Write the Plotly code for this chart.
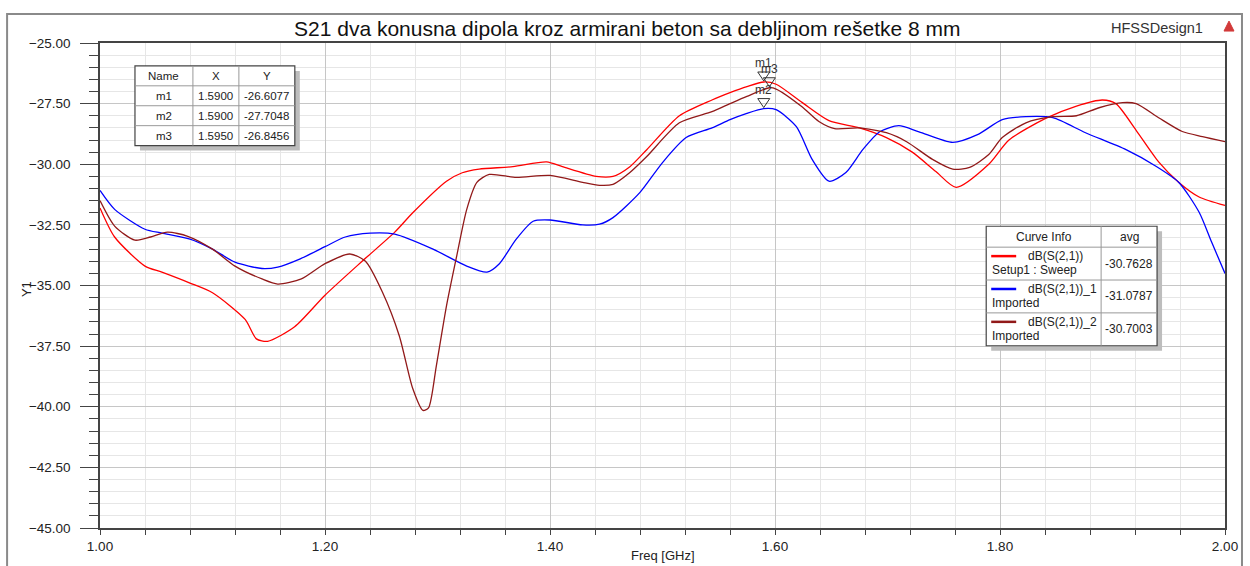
import plotly.graph_objects as go

# ---- curve data: dB(S(2,1)) vs frequency ----
red_f = [1.000, 1.013, 1.040, 1.055, 1.080, 1.100, 1.129, 1.139, 1.149, 1.173, 1.200, 1.233,
         1.262, 1.278, 1.308, 1.322, 1.337, 1.367, 1.397, 1.411, 1.441, 1.456, 1.471, 1.486,
         1.515, 1.544, 1.560, 1.575, 1.590, 1.601, 1.624, 1.648, 1.675, 1.699, 1.722, 1.743,
         1.761, 1.790, 1.808, 1.841, 1.868, 1.891, 1.903, 1.921, 1.941, 1.959, 1.977, 2.000]
red_y = [-31.8, -33.0, -34.2, -34.45, -34.9, -35.3, -36.4, -37.2, -37.3, -36.7, -35.4, -34.0,
         -32.8, -32.0, -30.7, -30.35, -30.2, -30.1, -29.9, -30.1, -30.5, -30.5, -30.1, -29.4,
         -28.0, -27.35, -27.05, -26.8, -26.6077, -26.7, -27.45, -28.2, -28.5, -28.9, -29.5, -30.3,
         -30.95, -30.0, -29.0, -28.1, -27.6, -27.35, -27.5, -28.6, -29.9, -30.75, -31.35, -31.7]

blue_f = [1.000, 1.013, 1.040, 1.055, 1.080, 1.100, 1.120, 1.144, 1.158, 1.178, 1.200, 1.218,
          1.240, 1.262, 1.296, 1.326, 1.344, 1.355, 1.370, 1.385, 1.400, 1.429, 1.444, 1.456,
          1.480, 1.500, 1.521, 1.544, 1.560, 1.575, 1.590, 1.601, 1.619, 1.633, 1.648, 1.663,
          1.678, 1.693, 1.710, 1.728, 1.758, 1.780, 1.802, 1.823, 1.847, 1.876, 1.912, 1.939,
          1.959, 1.977, 1.988, 2.000]
blue_y = [-31.08, -31.86, -32.68, -32.84, -33.09, -33.5, -34.04, -34.3, -34.24, -33.9, -33.4, -33.0,
          -32.84, -32.88, -33.5, -34.2, -34.45, -34.1, -33.09, -32.35, -32.3, -32.5, -32.47, -32.2,
          -31.16, -29.93, -28.9, -28.5, -28.16, -27.9, -27.7048, -27.75, -28.45, -29.8, -30.7, -30.34,
          -29.4, -28.66, -28.41, -28.66, -29.1, -28.78, -28.16, -28.04, -28.08, -28.7, -29.4, -30.09,
          -30.75, -31.98, -33.2, -34.5]

dark_f = [1.000, 1.013, 1.031, 1.045, 1.060, 1.078, 1.100, 1.120, 1.144, 1.158, 1.179, 1.200,
          1.222, 1.236, 1.251, 1.266, 1.278, 1.287, 1.292, 1.299, 1.308, 1.317, 1.326, 1.335,
          1.346, 1.370, 1.400, 1.429, 1.444, 1.456, 1.471, 1.486, 1.515, 1.544, 1.560, 1.575,
          1.595, 1.601, 1.624, 1.639, 1.653, 1.675, 1.699, 1.717, 1.740, 1.758, 1.773, 1.790,
          1.802, 1.823, 1.847, 1.868, 1.888, 1.909, 1.921, 1.941, 1.962, 1.980, 2.000]
dark_y = [-31.5, -32.55, -33.13, -33.0, -32.8, -32.97, -33.5, -34.2, -34.73, -34.94, -34.73, -34.1,
          -33.7, -34.0, -35.27, -37.07, -39.25, -40.15, -40.05, -38.3, -35.84, -33.8, -31.86, -30.75,
          -30.42, -30.54, -30.46, -30.75, -30.87, -30.83, -30.34, -29.68, -28.29, -27.83, -27.5, -27.2,
          -26.8456, -26.9, -27.63, -28.24, -28.53, -28.5, -28.7, -29.07, -29.8, -30.2, -30.13, -29.6,
          -28.9, -28.29, -28.04, -28.0, -27.67, -27.46, -27.5, -28.08, -28.65, -28.86, -29.07]

# ---- markers ----
marker_names = ["m1", "m2", "m3"]
marker_f = [1.5900, 1.5900, 1.5950]
marker_y = [-26.6077, -27.7048, -26.8456]

# ---- curve info table ----
curve_names = ["dB(S(2,1))", "dB(S(2,1))_1", "dB(S(2,1))_2"]
curve_sources = ["Setup1 : Sweep", "Imported", "Imported"]
curve_avg = [-30.7628, -31.0787, -30.7003]
curve_colors = ["rgb(255,0,0)", "rgb(0,0,255)", "rgb(145,25,25)"]

title_text = "S21 dva konusna dipola kroz armirani beton sa debljinom rešetke 8 mm"
design_name = "HFSSDesign1"

FONT = "Liberation Sans, Arial, sans-serif"
TXT = "#222222"

# plot-area geometry in pixels (for placing decorations outside the axes)
X0, W = 100, 1126
Y0, H = 530, 487


def px(x):
    return (x - X0) / W


def py(y):
    return (Y0 - y) / H


fig = go.Figure()
series = [(red_f, red_y), (blue_f, blue_y), (dark_f, dark_y)]
for (f, y), name, col in zip(series, curve_names, curve_colors):
    fig.add_trace(go.Scatter(x=f, y=y, mode="lines", name=name,
                             line=dict(color=col, width=1.3, shape="spline", smoothing=0.7),
                             hoverinfo="x+y", showlegend=False))

shapes = []
annots = []

# outer frame of the report
shapes.append(dict(type="rect", xref="paper", yref="paper",
                   x0=px(7), x1=px(1243), y0=py(14), y1=py(600),
                   line=dict(color="#8a8a8a", width=2), layer="below"))

# title and design name
annots.append(dict(xref="paper", yref="paper", x=px(628), y=py(28), text=title_text,
                   showarrow=False, font=dict(family=FONT, size=21, color="#111111"),
                   xanchor="center", yanchor="middle"))
annots.append(dict(xref="paper", yref="paper", x=px(1158), y=py(28), text=design_name,
                   showarrow=False, font=dict(family=FONT, size=14.5, color="#333333"),
                   xanchor="center", yanchor="middle"))
# small red logo
shapes.append(dict(type="path", xref="paper", yref="paper",
                   path=f"M {px(1225)} {py(31)} L {px(1235)} {py(31)} L {px(1230)} {py(21)} Z",
                   fillcolor="#d23a3a", line=dict(color="#d23a3a", width=1)))

# axis titles
annots.append(dict(xref="paper", yref="paper", x=px(27), y=py(290), text="Y1", textangle=-90,
                   showarrow=False, font=dict(family=FONT, size=13, color=TXT),
                   xanchor="center", yanchor="middle"))
annots.append(dict(xref="paper", yref="paper", x=px(663), y=py(558), text="Freq [GHz]",
                   showarrow=False, font=dict(family=FONT, size=13, color=TXT),
                   xanchor="center", yanchor="middle"))

# marker triangles and labels
for name, f, y in zip(marker_names, marker_f, marker_y):
    shapes.append(dict(type="path", xref="x", yref="y", xsizemode="pixel", ysizemode="pixel",
                       xanchor=f, yanchor=y, path="M -6 10 L 6 10 L 0 1 Z",
                       line=dict(color="#333333", width=1), fillcolor="rgba(0,0,0,0)"))
    annots.append(dict(xref="x", yref="y", x=f, y=y, yshift=19, text=name, showarrow=False,
                       font=dict(family=FONT, size=12, color="#333333"),
                       xanchor="center", yanchor="middle"))


def table_box(x0, x1, y0, y1):
    # drop shadow then white box
    shapes.append(dict(type="rect", xref="paper", yref="paper",
                       x0=px(x0 + 5), x1=px(x1 + 5), y0=py(y0 + 5), y1=py(y1 + 5),
                       fillcolor="#bdbdbd", line=dict(width=0)))
    shapes.append(dict(type="rect", xref="paper", yref="paper",
                       x0=px(x0), x1=px(x1), y0=py(y0), y1=py(y1),
                       fillcolor="white", line=dict(color="#444444", width=1.2)))


def hline(x0, x1, y):
    shapes.append(dict(type="line", xref="paper", yref="paper", x0=px(x0), x1=px(x1),
                       y0=py(y), y1=py(y), line=dict(color="#999999", width=1)))


def vline(x, y0, y1):
    shapes.append(dict(type="line", xref="paper", yref="paper", x0=px(x), x1=px(x),
                       y0=py(y0), y1=py(y1), line=dict(color="#999999", width=1)))


def label(x, y, text, size=11.5, anchor="center"):
    annots.append(dict(xref="paper", yref="paper", x=px(x), y=py(y), text=text, showarrow=False,
                       font=dict(family=FONT, size=size, color=TXT), xanchor=anchor,
                       yanchor="middle"))


# marker value table
tx0, tx1, ty0 = 135, 295, 66
row_h = 20
cols = [135, 193, 239, 295]
ty1 = ty0 + row_h * (len(marker_names) + 1)
table_box(tx0, tx1, ty0, ty1)
for i in range(1, len(marker_names) + 1):
    hline(tx0, tx1, ty0 + row_h * i)
for c in cols[1:-1]:
    vline(c, ty0, ty1)
for j, head in enumerate(["Name", "X", "Y"]):
    label((cols[j] + cols[j + 1]) / 2, ty0 + row_h / 2, head)
for i, (name, f, y) in enumerate(zip(marker_names, marker_f, marker_y)):
    yc = ty0 + row_h * (i + 1.5)
    label((cols[0] + cols[1]) / 2, yc, name)
    label((cols[1] + cols[2]) / 2, yc, f"{f:.4f}")
    label((cols[2] + cols[3]) / 2, yc, f"{y:.4f}")

# curve info table
lx0, lx1, lsplit = 987, 1158, 1102
lrows = [227, 248, 281, 314, 347]
table_box(lx0, lx1, lrows[0], lrows[-1])
for r in lrows[1:-1]:
    hline(lx0, lx1, r)
vline(lsplit, lrows[0], lrows[-1])
label((lx0 + lsplit) / 2, (lrows[0] + lrows[1]) / 2, "Curve Info", size=12)
label((lsplit + lx1) / 2, (lrows[0] + lrows[1]) / 2, "avg", size=12)
for i, (name, src, avg, col) in enumerate(zip(curve_names, curve_sources, curve_avg, curve_colors)):
    top, bot = lrows[i + 1], lrows[i + 2]
    ly = top + 9
    shapes.append(dict(type="line", xref="paper", yref="paper", x0=px(992), x1=px(1017),
                       y0=py(ly), y1=py(ly), line=dict(color=col, width=2.5)))
    label(1027, ly, name, size=12, anchor="left")
    label(991, top + 23, src, size=12, anchor="left")
    label((lsplit + lx1) / 2, (top + bot) / 2, f"{avg:.4f}", size=12)

fig.update_layout(
    width=1250, height=566,
    margin=dict(l=X0, r=1250 - (X0 + W), t=Y0 - H, b=566 - Y0),
    paper_bgcolor="white", plot_bgcolor="white",
    showlegend=False,
    shapes=shapes, annotations=annots,
    font=dict(family=FONT, color=TXT),
    xaxis=dict(range=[1.0, 2.0], dtick=0.2, tick0=1.0, tickformat=".2f",
               showgrid=True, gridcolor="#c6c6c6", gridwidth=1,
               ticks="outside", ticklen=5, tickcolor="#444444",
               showline=True, linecolor="#444444", linewidth=1.5, mirror=True,
               zeroline=False, tickfont=dict(family=FONT, size=13.5, color=TXT),
               minor=dict(dtick=0.04, tick0=1.0, showgrid=True, gridcolor="#e6e6e6",
                          ticks="outside", ticklen=5, tickcolor="#444444")),
    yaxis=dict(range=[-45.0, -25.0], dtick=2.5, tick0=-45.0, tickformat=".2f",
               showgrid=True, gridcolor="#c6c6c6", gridwidth=1,
               ticks="outside", ticklen=18, tickcolor="#444444",
               showline=True, linecolor="#444444", linewidth=1.5, mirror=True,
               zeroline=False, tickfont=dict(family=FONT, size=13.5, color=TXT),
               ticklabelstandoff=7,
               minor=dict(dtick=0.5, tick0=-45.0, showgrid=True, gridcolor="#e6e6e6",
                          ticks="outside", ticklen=9, tickcolor="#444444")),
)

fig.write_html("out.html")
